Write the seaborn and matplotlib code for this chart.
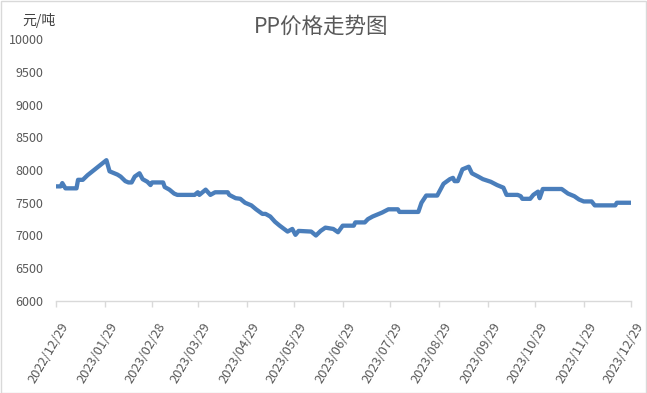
import matplotlib.pyplot as plt
import matplotlib.transforms as mtransforms
import pandas as pd
import seaborn as sns
from matplotlib.patches import Rectangle

dates = [
    "2022-12-29", "2023-01-01", "2023-01-02", "2023-01-04", "2023-01-11",
    "2023-01-12", "2023-01-15", "2023-01-18", "2023-01-30", "2023-02-01",
    "2023-02-06", "2023-02-08", "2023-02-11", "2023-02-13", "2023-02-15",
    "2023-02-17", "2023-02-20", "2023-02-22", "2023-02-25", "2023-02-27",
    "2023-02-28", "2023-03-07", "2023-03-08", "2023-03-11", "2023-03-14",
    "2023-03-16", "2023-03-27", "2023-03-29", "2023-03-30", "2023-04-03",
    "2023-04-06", "2023-04-09", "2023-04-17", "2023-04-18", "2023-04-22",
    "2023-04-25", "2023-04-28", "2023-05-02", "2023-05-05", "2023-05-09",
    "2023-05-11", "2023-05-14", "2023-05-17", "2023-05-20", "2023-05-25",
    "2023-05-28", "2023-05-30", "2023-06-01", "2023-06-09", "2023-06-12",
    "2023-06-15", "2023-06-18", "2023-06-23", "2023-06-26", "2023-06-29",
    "2023-07-06", "2023-07-07", "2023-07-13", "2023-07-15", "2023-07-18",
    "2023-07-21", "2023-07-24", "2023-07-28", "2023-08-03", "2023-08-04",
    "2023-08-16", "2023-08-18", "2023-08-21", "2023-08-28", "2023-09-01",
    "2023-09-05", "2023-09-07", "2023-09-08", "2023-09-10", "2023-09-13",
    "2023-09-17", "2023-09-19", "2023-09-23", "2023-09-26", "2023-10-01",
    "2023-10-05", "2023-10-09", "2023-10-11", "2023-10-18", "2023-10-20",
    "2023-10-21", "2023-10-26", "2023-10-28", "2023-10-31", "2023-11-01",
    "2023-11-03", "2023-11-15", "2023-11-19", "2023-11-23", "2023-11-26",
    "2023-11-29", "2023-12-04", "2023-12-06", "2023-12-19", "2023-12-20",
    "2023-12-29",
]
prices = [
    7750, 7750, 7800, 7720, 7720,
    7850, 7850, 7920, 8150, 7980,
    7930, 7900, 7830, 7810, 7810,
    7900, 7950, 7860, 7820, 7770,
    7810, 7810, 7740, 7700, 7640,
    7620, 7620, 7660, 7620, 7700,
    7620, 7660, 7660, 7620, 7570,
    7560, 7500, 7460, 7400, 7330,
    7330, 7290, 7210, 7150, 7060,
    7100, 7010, 7070, 7060, 7000,
    7070, 7120, 7100, 7050, 7150,
    7150, 7200, 7200, 7250, 7290,
    7320, 7350, 7400, 7400, 7360,
    7360, 7500, 7610, 7610, 7790,
    7860, 7880, 7830, 7830, 8010,
    8050, 7950, 7900, 7860, 7820,
    7770, 7730, 7620, 7620, 7600,
    7560, 7560, 7620, 7670, 7570,
    7710, 7710, 7640, 7600, 7550,
    7520, 7520, 7460, 7460, 7500,
    7500,
]
tick_labels = [
    "2022/12/29", "2023/01/29", "2023/02/28", "2023/03/29", "2023/04/29",
    "2023/05/29", "2023/06/29", "2023/07/29", "2023/08/29", "2023/09/29",
    "2023/10/29", "2023/11/29", "2023/12/29",
]
y_ticks = [6000, 6500, 7000, 7500, 8000, 8500, 9000, 9500, 10000]


def set_seaborn_features():
    sns.set_style("white")
    plt.rcParams["font.family"] = ["Noto Sans CJK SC", "DejaVu Sans"]


def build_line_plot():
    df = pd.DataFrame({"date": pd.to_datetime(dates), "price": prices})
    tick_dates = pd.to_datetime(tick_labels, format="%Y/%m/%d")

    fig = plt.figure(figsize=(6.47, 3.93), dpi=100)
    ax = fig.add_axes([56 / 647, 1 - 301 / 393, 575 / 647, 262 / 393])

    sns.lineplot(x="date", y="price", data=df, color="#4a7ebb",
                 linewidth=3.1, ax=ax)

    ax.set_xlim(tick_dates[0], tick_dates[-1])
    ax.set_ylim(6000, 10000)
    ax.set_yticks(y_ticks)
    ax.set_yticklabels([str(v) for v in y_ticks])
    ax.set_xticks(tick_dates)
    ax.set_xticklabels(tick_labels, rotation=60, ha="right", va="center",
                       rotation_mode="anchor")
    ax.set_xlabel("")
    ax.set_ylabel("")

    for side in ("top", "right", "left"):
        ax.spines[side].set_visible(False)
    ax.spines["bottom"].set_color("#d9d9d9")
    ax.spines["bottom"].set_linewidth(1)

    ax.tick_params(axis="y", length=0, pad=9, labelsize=9, labelcolor="#595959")
    ax.tick_params(axis="x", length=4, width=1, color="#d9d9d9", pad=12,
                   labelsize=9.3, labelcolor="#595959", direction="out")
    ax.xaxis.set_ticks_position("bottom")

    shift = mtransforms.ScaledTranslation(10 / 100, 0, fig.dpi_scale_trans)
    for label in ax.get_xticklabels():
        label.set_transform(label.get_transform() + shift)

    fig.text(0.497, 1 - 27 / 393, "PP价格走势图", ha="center", va="center",
             fontsize=15.5, color="#595959")
    fig.text(39 / 647, 1 - 20 / 393, "元/吨", ha="center", va="center",
             fontsize=10, color="#404040")

    fig.patches.append(Rectangle((0.5 / 647, 0.5 / 393), 1 - 1.5 / 647,
                                 1 - 1.5 / 393, transform=fig.transFigure,
                                 fill=False, edgecolor="#d9d9d9",
                                 linewidth=1))

    fig.savefig("out.png", dpi=100)
    plt.close(fig)


set_seaborn_features()
build_line_plot()
